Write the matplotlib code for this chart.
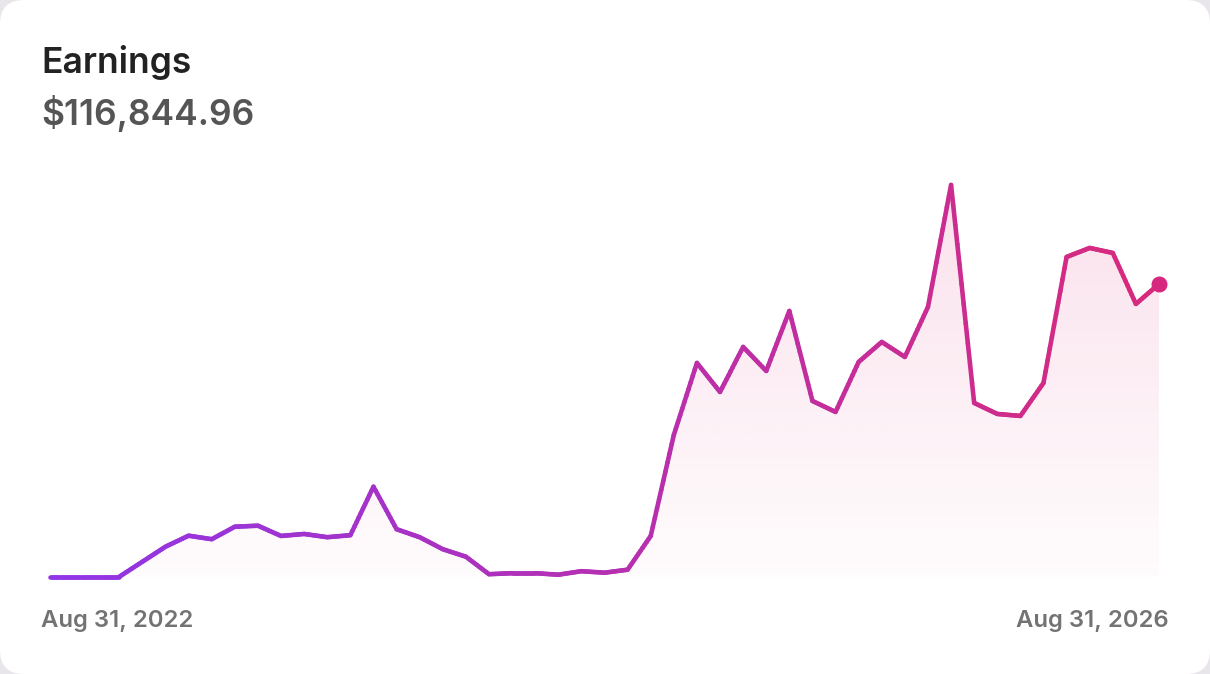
import numpy as np
import matplotlib
matplotlib.use("Agg")
import matplotlib.pyplot as plt
from matplotlib.collections import LineCollection
from matplotlib.colors import to_rgb
from matplotlib.patches import FancyBboxPatch, Polygon

# monthly earnings, Aug 2022 .. Aug 2026
earnings = [0, 0, 0, 0, 300, 600, 820, 750, 1000, 1020,
            815, 855, 790, 830, 1800, 950, 790, 550, 400, 50,
            70, 70, 40, 110, 80, 140, 815, 2835, 4275, 3695,
            4595, 4115, 5315, 3515, 3295, 4295, 4695, 4395, 5395, 7835,
            3475, 3255, 3215, 3875, 6395, 6575, 6475, 5455, 5855]
title = "Earnings"
total_label = "$116,844.96"
start_label = "Aug 31, 2022"
end_label = "Aug 31, 2026"

W, H = 1210, 674
c_left = np.array(to_rgb("#9036e8"))
c_right = np.array(to_rgb("#d92a7c"))

fig = plt.figure(figsize=(W / 100, H / 100), dpi=100)
fig.patch.set_facecolor("#e9e6eb")

# card background, in pixel coords
bg = fig.add_axes([0, 0, 1, 1])
bg.set_xlim(0, W)
bg.set_ylim(H, 0)
bg.axis("off")
bg.add_patch(FancyBboxPatch((0, 0), W, H, boxstyle="round,pad=0,rounding_size=24",
                            fc="white", ec="none"))

font = "Inter"
bg.text(41, 73, title, fontsize=25.5, family=font, weight="semibold", color="#222222",
        va="baseline")
bg.text(41, 125, total_label, fontsize=25.5, family=font, weight="semibold", color="#555555",
        va="baseline")
bg.text(41, 627, start_label, fontsize=17.2, family=font, weight="semibold", color="#737373",
        va="baseline")
bg.text(1169, 627, end_label, fontsize=17.2, family=font, weight="semibold", color="#737373",
        va="baseline", ha="right")

# chart area
ymax = 8000
ax = fig.add_axes([50 / W, 1 - 576.7 / H, 1109 / W, 400 / H])
ax.set_xlim(0, len(earnings) - 1)
ax.set_ylim(0, ymax)
ax.axis("off")

x = np.arange(len(earnings))
y = np.array(earnings, dtype=float)

# area fill with a vertical fade
grad = np.zeros((256, 1, 4))
grad[:, 0, :3] = to_rgb("#e0307f")
grad[:, 0, 3] = np.linspace(0.15, 0.015, 256)
img = ax.imshow(grad, extent=[0, x[-1], 0, ymax], aspect="auto", origin="upper", zorder=1)
poly = Polygon(np.column_stack([np.r_[x, x[-1], 0], np.r_[y, 0, 0]]), closed=True,
               fc="none", ec="none")
ax.add_patch(poly)
img.set_clip_path(poly)

# line with horizontal colour gradient
xs, ys = [], []
for i in range(len(x) - 1):
    t = np.linspace(0, 1, 12)
    xs.append(x[i] + t * (x[i + 1] - x[i]))
    ys.append(y[i] + t * (y[i + 1] - y[i]))
xs = np.concatenate(xs)
ys = np.concatenate(ys)
pts = np.column_stack([xs, ys]).reshape(-1, 1, 2)
segs = np.concatenate([pts[:-1], pts[1:]], axis=1)
f = ((xs[:-1] + xs[1:]) / 2 / x[-1])[:, None]
cols = c_left * (1 - f) + c_right * f
lc = LineCollection(segs, colors=cols, linewidths=3.3, capstyle="round", joinstyle="round",
                    zorder=3)
lc.set_clip_on(False)
ax.add_collection(lc)

ax.plot(x[-1], y[-1], "o", ms=10.5, color="#d6287f", zorder=4, clip_on=False)

fig.savefig("out.png", dpi=100, facecolor=fig.get_facecolor())
